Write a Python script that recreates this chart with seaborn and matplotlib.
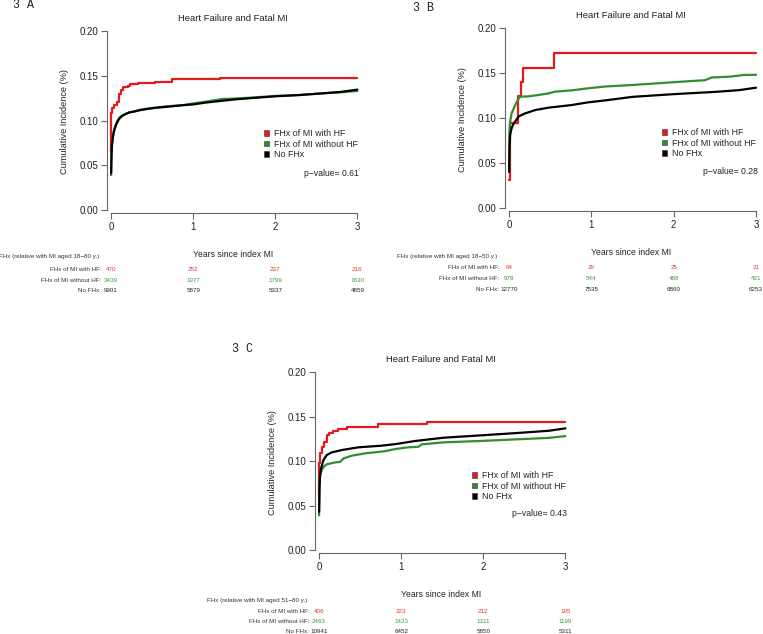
import numpy as np
import pandas as pd
import seaborn as sns
from matplotlib import pyplot as plt
from matplotlib.patches import Patch

# ---- data (cumulative incidence curves) ----
groups = ['FHx of MI with HF', 'FHx of MI without HF', 'No FHx']
colors = ['#e41a1c', '#2f8f2f', '#000000']
table_colors = ['#e8342c', '#3c9a3c', '#222222']
years = [0, 1, 2, 3]

# panel A
a_red_t = [0, 0.004, 0.016, 0.04, 0.069, 0.098, 0.12, 0.15, 0.2, 0.23, 0.33, 0.54, 0.74, 1.33, 3.0]
a_red_y = [0.065, 0.108, 0.1136, 0.117, 0.121, 0.130, 0.134, 0.1378, 0.139, 0.1404, 0.1415, 0.1434, 0.146, 0.148, 0.148]
a_green_t = [0, 0.005, 0.01, 0.02, 0.03, 0.045, 0.06, 0.08, 0.1, 0.13, 0.17, 0.22, 0.28, 0.35, 0.45,
             0.55, 0.7, 0.86, 1.0, 1.15, 1.35, 1.5, 1.7, 2.0, 2.3, 2.6, 2.8, 3.0]
a_green_y = [0.039, 0.063, 0.073, 0.081, 0.087, 0.092, 0.096, 0.100, 0.103, 0.105, 0.107, 0.109, 0.110, 0.112, 0.1135,
             0.1145, 0.116, 0.117, 0.119, 0.121, 0.124, 0.1245, 0.1255, 0.1275, 0.1285, 0.1305, 0.1315, 0.133]
a_black_t = [0, 0.005, 0.01, 0.02, 0.03, 0.045, 0.06, 0.08, 0.1, 0.13, 0.17, 0.22, 0.28, 0.35, 0.45,
             0.55, 0.7, 0.86, 1.0, 1.15, 1.3, 1.5, 1.7, 2.0, 2.3, 2.6, 2.8, 3.0]
a_black_y = [0.041, 0.062, 0.072, 0.080, 0.086, 0.091, 0.095, 0.099, 0.102, 0.105, 0.107, 0.109, 0.110, 0.1115, 0.113,
             0.1143, 0.1155, 0.117, 0.118, 0.120, 0.1215, 0.1235, 0.125, 0.127, 0.1285, 0.1305, 0.132, 0.1345]
a_risk = [[470, 252, 237, 216], [3439, 1977, 1799, 1630], [9901, 5879, 5337, 4859]]

# panel B
b_red_t = [0, 0.01, 0.11, 0.145, 0.17, 0.55, 3.0]
b_red_y = [0.031, 0.094, 0.124, 0.140, 0.156, 0.172, 0.172]
b_green_t = [0, 0.004, 0.012, 0.03, 0.065, 0.093, 0.134, 0.23, 0.36, 0.48, 0.56, 0.76, 0.96, 1.17, 1.5,
             1.875, 2.2, 2.38, 2.46, 2.69, 2.85, 3.0]
b_green_y = [0.045, 0.085, 0.096, 0.105, 0.1126, 0.118, 0.1237, 0.124, 0.1256, 0.1274, 0.1293, 0.1307, 0.133, 0.135, 0.1367,
             0.139, 0.141, 0.142, 0.145, 0.146, 0.1478, 0.148]
b_black_t = [0, 0.005, 0.012, 0.03, 0.05, 0.073, 0.113, 0.19, 0.32, 0.48, 0.76, 0.96, 1.17, 1.5, 2.0, 2.5, 2.8, 3.0]
b_black_y = [0.040, 0.068, 0.081, 0.0885, 0.093, 0.096, 0.1015, 0.105, 0.1089, 0.1115, 0.1144, 0.1174, 0.1196, 0.1235,
             0.1265, 0.129, 0.131, 0.1337]
b_risk = [[64, 29, 25, 21], [978, 544, 488, 431], [12770, 7535, 6860, 6253]]

# panel C
c_red_t = [0, 0.004, 0.012, 0.033, 0.06, 0.093, 0.12, 0.175, 0.236, 0.34, 0.72, 1.31, 3.0]
c_red_y = [0.058, 0.098, 0.1086, 0.116, 0.1217, 0.129, 0.131, 0.1337, 0.136, 0.1386, 0.1412, 0.1438, 0.1438]
c_green_t = [0, 0.005, 0.012, 0.033, 0.06, 0.093, 0.2, 0.256, 0.3, 0.4, 0.56, 0.8, 0.93, 1.09, 1.21, 1.25, 1.52,
             1.96, 2.49, 2.8, 3.0]
c_green_y = [0.039, 0.072, 0.084, 0.090, 0.094, 0.0963, 0.0985, 0.099, 0.103, 0.106, 0.1086, 0.111, 0.1135, 0.1154,
             0.116, 0.1187, 0.121, 0.1225, 0.1247, 0.126, 0.128]
c_black_t = [0, 0.005, 0.012, 0.024, 0.04, 0.053, 0.093, 0.154, 0.28, 0.48, 0.76, 0.93, 1.17, 1.52, 2.0, 2.5, 2.8, 3.0]
c_black_y = [0.043, 0.072, 0.084, 0.0918, 0.097, 0.101, 0.1067, 0.1097, 0.1124, 0.1154, 0.1172, 0.119, 0.1225, 0.1262,
             0.129, 0.132, 0.134, 0.1367]
c_risk = [[406, 223, 212, 195], [2463, 1433, 1311, 1199], [10941, 6452, 5850, 5311]]

sns.set_theme(style='white')
plt.rcParams['font.family'] = ['Liberation Sans', 'DejaVu Sans']
plt.rcParams['axes.unicode_minus'] = True

fig = plt.figure(figsize=(7.63, 6.34), dpi=100)

W, H = 763, 634


def make_ax(left, top, width, height):
    # pixel box -> figure fraction
    return fig.add_axes([left / W, 1 - (top + height) / H, width / W, height / H])


def draw_panel(ax, curves, risk, header, pval, tag, tag_xy, rows_y, leg_anchor):
    frames = []
    for g, (t, y) in zip(groups, curves):
        frames.append(pd.DataFrame({'t': t, 'ci': y, 'group': g}))
    df = pd.concat(frames, ignore_index=True)
    pal = dict(zip(groups, colors))
    # the small group has visible steps, the big ones look smooth
    sns.lineplot(data=df[df.group == groups[0]], x='t', y='ci', hue='group', palette=pal,
                 drawstyle='steps-post', estimator=None, sort=False, linewidth=1.6,
                 legend=False, ax=ax)
    sns.lineplot(data=df[df.group != groups[0]], x='t', y='ci', hue='group',
                 hue_order=groups[1:], palette=pal, estimator=None, sort=False,
                 linewidth=1.6, legend=False, ax=ax)

    ax.set_xlim(-0.05, 3.02)
    ax.set_ylim(-0.003, 0.2)
    ax.set_xticks(years)
    ax.set_xticklabels([str(v) for v in years])
    ax.set_yticks([0, 0.05, 0.10, 0.15, 0.20])
    ax.set_yticklabels(['0.00', '0.05', '0.10', '0.15', '0.20'])
    sns.despine(ax=ax)
    for s in ['left', 'bottom']:
        ax.spines[s].set_color('#666666')
        ax.spines[s].set_linewidth(0.8)
    ax.spines['left'].set_bounds(0, 0.2)
    ax.spines['bottom'].set_bounds(0, 3)
    ax.tick_params(axis='both', which='both', length=4, width=0.8, color='#666666',
                   labelsize=7, labelcolor='#222222', pad=2, direction='out',
                   left=True, bottom=True)
    ax.tick_params(axis='x', pad=3)
    ax.set_ylabel('Cumulative Incidence (%)', fontsize=6.6, color='#222222', labelpad=8)
    ax.set_xlabel('Years since index MI', fontsize=6.2, color='#222222', labelpad=13)
    ax.set_title('Heart Failure and Fatal MI', fontsize=6.8, color='#222222', pad=7)

    handles = [Patch(facecolor=c, edgecolor='#333333', linewidth=0.4) for c in colors]
    ax.legend(handles, groups, loc='center left', bbox_to_anchor=leg_anchor,
              frameon=False, fontsize=6.4, handlelength=0.6, handleheight=0.6,
              handletextpad=0.5, labelspacing=0.15, borderpad=0, borderaxespad=0)
    ax.text(3.02, 0.041, 'p\u2212value= ' + pval, ha='right', va='center',
            fontsize=6.2, color='#222222')

    # numbers at risk table
    tr = ax.get_xaxis_transform()
    ax.text(-1.36, rows_y[0], header, transform=tr, ha='left', va='center',
            fontsize=4.5, color='#333333', clip_on=False)
    row_labels = ['FHx of MI with HF:', 'FHx of MI without HF:', 'No FHx:']
    for i, lab in enumerate(row_labels):
        ax.text(-0.12, rows_y[i + 1], lab, transform=tr, ha='right', va='center',
                fontsize=4.5, color='#333333', clip_on=False)
        for x, n in zip(years, risk[i]):
            ax.text(x, rows_y[i + 1], str(n), transform=tr, ha='center', va='center',
                    fontsize=4.5, color=table_colors[i], clip_on=False)

    fig.text(tag_xy[0] / W, 1 - tag_xy[1] / H, tag, ha='left', va='center',
             fontsize=8.4, family='Liberation Mono', color='#222222')


ax_a = make_ax(107, 31, 252, 181.7)
draw_panel(ax_a, [(a_red_t, a_red_y), (a_green_t, a_green_y), (a_black_t, a_black_y)],
           a_risk, 'FHx (relative with MI aged 18\u221280 y.)', '0.61', '3 A', (13, 5),
           [-0.242, -0.315, -0.373, -0.43], (0.623, 0.378))

ax_b = make_ax(505, 28, 252.7, 182.7)
draw_panel(ax_b, [(b_red_t, b_red_y), (b_green_t, b_green_y), (b_black_t, b_black_y)],
           b_risk, 'FHx (relative with MI aged 18\u221250 y.)', '0.28', '3 B', (413, 8),
           [-0.248, -0.313, -0.372, -0.43], (0.621, 0.37))

ax_c = make_ax(315, 372, 252, 180.7)
draw_panel(ax_c, [(c_red_t, c_red_y), (c_green_t, c_green_y), (c_black_t, c_black_y)],
           c_risk, 'FHx (relative with MI aged 51\u221280 y.)', '0.43', '3 C', (232, 349),
           [-0.267, -0.324, -0.38, -0.435], (0.623, 0.369))

fig.savefig('out.png', dpi=100)
